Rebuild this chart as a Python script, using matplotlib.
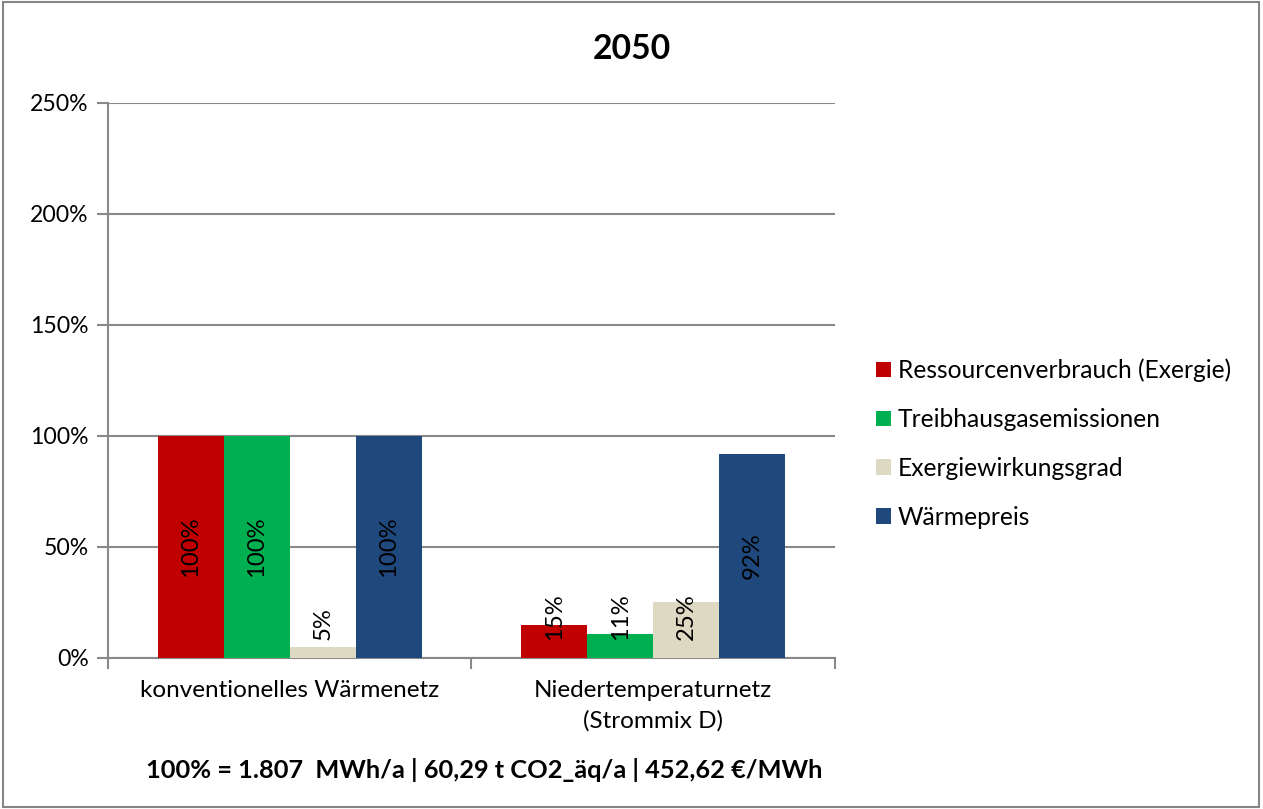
import matplotlib.pyplot as plt
from matplotlib.patches import Rectangle
import numpy as np

plt.rcParams['font.family'] = ['Lato', 'DejaVu Sans']

categories = ['konventionelles Wärmenetz', 'Niedertemperaturnetz\n(Strommix D)']
series = ['Ressourcenverbrauch (Exergie)', 'Treibhausgasemissionen',
          'Exergiewirkungsgrad', 'Wärmepreis']
colors = ['#C00000', '#00B050', '#DDD9C3', '#1F497D']
values = [
    [100, 15],   # Ressourcenverbrauch
    [100, 11],   # Treibhausgase
    [5, 25],     # Exergiewirkungsgrad
    [100, 92],   # Wärmepreis
]
yticks = [0, 50, 100, 150, 200, 250]
title = '2050'
footnote = '100% = 1.807  MWh/a | 60,29 t CO2_äq/a | 452,62 €/MWh'

fig = plt.figure(figsize=(12.63, 8.09), dpi=100)
ax = fig.add_axes([0.0855, 0.1867, 0.5756, 0.686])

grey = '#898989'
x = np.arange(len(categories))
width = 0.1816
for i, (name, vals, c) in enumerate(zip(series, values, colors)):
    pos = x + (i - 1.5) * width
    ax.bar(pos, vals, width, color=c, label=name, zorder=3)
    for px, v in zip(pos, vals):
        if v < 30:
            ax.text(px, 8, f'{v}%', rotation=90, ha='center', va='bottom',
                    fontsize=17.2, zorder=4)
        else:
            ax.text(px, v / 2, f'{v}%', rotation=90, ha='center', va='center',
                    fontsize=17.2, zorder=4)

ax.set_xlim(-0.5, 1.5)
ax.set_ylim(0, 250)
ax.set_yticks(yticks)
ax.set_yticklabels([f'{t}%' for t in yticks], fontsize=16.6)
ax.yaxis.grid(True, color=grey, linewidth=1.5, zorder=0)
ax.tick_params(axis='y', length=8, width=1.5, color=grey, direction='out', pad=6)

# category labels sit between the boundary ticks
ax.set_xticks([-0.5, 0.5, 1.5])
ax.set_xticklabels([])
ax.tick_params(axis='x', length=8, width=1.5, color=grey, direction='out')
for xi, lab in zip(x, categories):
    ax.text(xi, -0.04, lab, transform=ax.get_xaxis_transform(), ha='center',
            va='top', fontsize=17.5, linespacing=1.5)

for s in ['top', 'right']:
    ax.spines[s].set_visible(False)
for s in ['left', 'bottom']:
    ax.spines[s].set_color(grey)
    ax.spines[s].set_linewidth(1.5)

fig.text(0.5, 0.94, title, ha='center', va='center', fontsize=24.3,
         fontweight='bold')
fig.text(0.383, 0.048, footnote, ha='center', va='center', fontsize=18.3,
         fontweight='bold')

ax.legend(loc='center left', bbox_to_anchor=(1.026, 0.386), frameon=False,
          fontsize=17.7, handlelength=0.6, handleheight=0.6, handletextpad=0.3,
          labelspacing=1.05)

fig.patches.append(Rectangle((0.002, 0.003), 0.995, 0.994, transform=fig.transFigure,
                             fill=False, edgecolor='#868686', linewidth=1.5))

fig.savefig('out.png', dpi=100)
